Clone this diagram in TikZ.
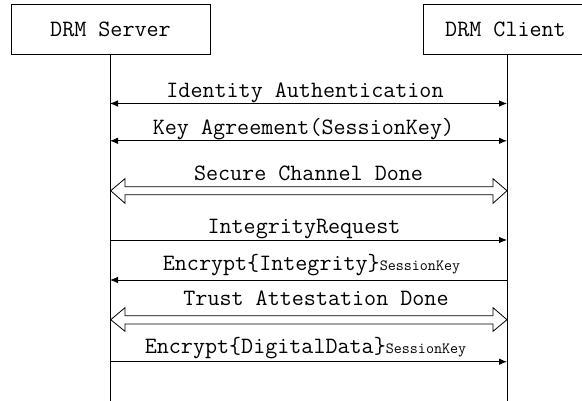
\documentclass[tikz,border=0pt]{standalone}
\usepackage{fontspec}
\usetikzlibrary{arrows.meta}
\begin{document}
\begin{tikzpicture}[x=1pt,y=-1pt,
  party/.style={draw=black,line width=0.8pt,rectangle,inner sep=0pt},
  life/.style={draw=black,line width=0.9pt},
  msg/.style={draw=black,line width=0.8pt},
  tipA/.style={-{Latex[length=8pt,width=6.5pt]}},
  tipAB/.style={{Latex[length=8pt,width=6.5pt]}-{Latex[length=8pt,width=6.5pt]}},
  lbl/.style={anchor=base,inner sep=0pt,font=\ttfamily\fontsize{23.4}{26}\selectfont},
  fat/.style={draw=black,fill=white,line width=0.8pt,line join=miter}]
\newcommand{\skey}{{\fontsize{15.6}{17}\selectfont SessionKey}}
\useasboundingbox (0,0) rectangle (582,401);

% participants
\draw[party] (11,4.5) rectangle (210,54);
\draw[party] (423,4.5) rectangle (586,54);
\node[lbl,anchor=center] (srvname) at (110.5,29.5) {DRM Server};
\node[lbl,anchor=center] (cliname) at (505.5,29.5) {DRM Client};

% lifelines
\coordinate (stop) at (110,54);  \coordinate (sbot) at (110,401);
\coordinate (ctop) at (507,54);  \coordinate (cbot) at (507,401);
\draw[life] (stop) -- (sbot);
\draw[life] (ctop) -- (cbot);

% message end points on each lifeline
\foreach \n/\y in {1/103.5,2/140.8,4/240,5/280,7/361.7}{
  \coordinate (s\n) at (110,\y);
  \coordinate (c\n) at (507,\y);
}

% messages
\draw[msg,tipAB] (s1) -- (c1);
\node[lbl] (m1) at (305,97.3) {Identity Authentication};

\draw[msg,tipAB] (s2) -- (c2);
\node[lbl] (m2) at (303.5,135) {Key Agreement(SessionKey)};

% secure channel established
\draw[fat] (110.7,190.7) -- (125,178.7) -- (125,186.7) -- (493,186.7) -- (493,178.7)
  -- (507,190.7) -- (493,203.3) -- (493,194.7) -- (125,194.7) -- (125,203.3) -- cycle;
\node[lbl] (m3) at (308.5,180.7) {Secure Channel Done};

\draw[msg,tipA] (s4) -- (c4);
\node[lbl] (m4) at (304,233.3) {IntegrityRequest};

\draw[msg,tipA] (c5) -- (s5);
\node[lbl] (m5) at (311.5,270.7) {Encrypt\{Integrity\}\skey};

% trust attestation established
\draw[fat] (110.7,319.7) -- (125,307.7) -- (125,315.7) -- (493,315.7) -- (493,307.7)
  -- (507,319.7) -- (493,331.3) -- (493,324) -- (125,324) -- (125,331.3) -- cycle;
\node[lbl] (m6) at (316,305.3) {Trust Attestation Done};

\draw[msg,tipA] (s7) -- (c7);
\node[lbl] (m7) at (305.5,353.3) {Encrypt\{DigitalData\}\skey};
\end{tikzpicture}
\end{document}
